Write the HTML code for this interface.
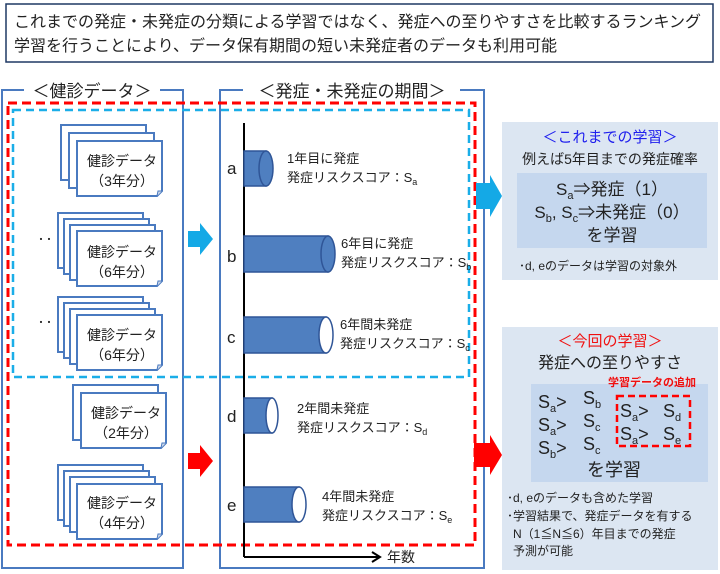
<!DOCTYPE html>
<html><head><meta charset="utf-8"><style>
body{margin:0;background:#fff}
svg{display:block}
text{font-family:"Liberation Sans","Noto Sans CJK JP",sans-serif;fill:#222}
</style></head><body>
<svg width="720" height="574" viewBox="0 0 720 574" xmlns="http://www.w3.org/2000/svg">
<defs>
<g id="sheet"><path d="M0 0H85V50L80 55H0Z" fill="#fff" stroke="#4a7ac0" stroke-width="2"/><path d="M80 55L81 50H85" fill="#cfd8e8" stroke="#4a7ac0" stroke-width="1"/></g>
</defs>
<rect x="6" y="4" width="707" height="58" fill="#fff" stroke="#1f3864" stroke-width="1.5"/>
<text x="14" y="27" font-size="16">これまでの発症・未発症の分類による学習ではなく、発症への至りやすさを比較するランキング</text>
<text x="14" y="51" font-size="16">学習を行うことにより、データ保有期間の短い未発症者のデータも利用可能</text>

<path d="M24 90H2V568H183V90H160" fill="none" stroke="#4a7ac0" stroke-width="2"/>
<text x="92" y="97" font-size="17" text-anchor="middle">＜健診データ＞</text>
<path d="M243 90H220V568H484V90H460" fill="none" stroke="#4a7ac0" stroke-width="2"/>
<text x="352" y="97" font-size="17" text-anchor="middle">＜発症・未発症の期間＞</text>

<rect x="8" y="103" width="467" height="442" fill="none" stroke="#f00" stroke-width="3" stroke-dasharray="9,5"/>
<rect x="13" y="110" width="456" height="267" fill="none" stroke="#1aaee8" stroke-width="2.5" stroke-dasharray="8,5"/>

<use href="#sheet" x="61" y="125"/>
<use href="#sheet" x="69" y="133"/>
<use href="#sheet" x="77" y="141"/>
<text x="122" y="166" font-size="14" text-anchor="middle">健診データ</text>
<text x="122" y="186" font-size="14" text-anchor="middle">（3年分）</text>

<use href="#sheet" x="58" y="213"/><use href="#sheet" x="64" y="219"/><use href="#sheet" x="70" y="225"/><use href="#sheet" x="77" y="231"/>
<text x="122" y="257" font-size="14" text-anchor="middle">健診データ</text>
<text x="122" y="277" font-size="14" text-anchor="middle">（6年分）</text>
<text x="37" y="245" font-size="16" fill="#4a7ac0">‥</text>

<use href="#sheet" x="58" y="297"/><use href="#sheet" x="64" y="303"/><use href="#sheet" x="70" y="309"/><use href="#sheet" x="77" y="315"/>
<text x="122" y="340" font-size="14" text-anchor="middle">健診データ</text>
<text x="122" y="360" font-size="14" text-anchor="middle">（6年分）</text>
<text x="37" y="328" font-size="16" fill="#4a7ac0">‥</text>

<use href="#sheet" x="73" y="385"/><use href="#sheet" x="81" y="393"/>
<text x="126" y="418" font-size="14" text-anchor="middle">健診データ</text>
<text x="126" y="438" font-size="14" text-anchor="middle">（2年分）</text>

<use href="#sheet" x="58" y="465"/><use href="#sheet" x="64" y="471"/><use href="#sheet" x="70" y="477"/><use href="#sheet" x="77" y="484"/>
<text x="122" y="508" font-size="14" text-anchor="middle">健診データ</text>
<text x="122" y="528" font-size="14" text-anchor="middle">（4年分）</text>

<path d="M188 231H200V223L213 239L200 255V247H188Z" fill="#14a9e6"/>
<path d="M188 453H200V445L213 461L200 477V469H188Z" fill="#f00"/>
<path d="M476 183H490V175L502 196L490 217V209H476Z" fill="#14a9e6"/>
<path d="M474 443H490V435L502 455L490 475V467H474Z" fill="#f00"/>

<line x1="244" y1="123" x2="244" y2="557" stroke="#000" stroke-width="2"/>
<line x1="244" y1="557" x2="378" y2="557" stroke="#000" stroke-width="2"/>
<path d="M372 552L380 557L372 562" fill="none" stroke="#000" stroke-width="2"/>
<text x="387" y="562" font-size="14">年数</text>

<g stroke="#2f5597" stroke-width="1.5">
<rect x="244" y="151" width="22" height="35" fill="#4f7fc0"/><ellipse cx="266" cy="168.5" rx="7" ry="17.5" fill="#4f7fc0"/>
<rect x="244" y="236" width="84" height="36" fill="#4f7fc0"/><ellipse cx="328" cy="254" rx="7" ry="18" fill="#4f7fc0"/>
<rect x="244" y="317" width="82" height="36" fill="#4f7fc0"/><ellipse cx="326" cy="335" rx="7" ry="18" fill="#fff"/>
<rect x="244" y="398" width="28" height="35" fill="#4f7fc0"/><ellipse cx="272" cy="415.5" rx="6" ry="17.5" fill="#fff"/>
<rect x="244" y="487" width="55" height="35" fill="#4f7fc0"/><ellipse cx="299" cy="504.5" rx="7" ry="17.5" fill="#fff"/>
</g>
<g font-size="17"><text x="227" y="174">a</text><text x="227" y="262">b</text><text x="227" y="343">c</text><text x="227" y="422">d</text><text x="227" y="511">e</text></g>
<g font-size="13">
<text x="287" y="163">1年目に発症</text><text x="287" y="182">発症リスクスコア：S<tspan font-size="9" dy="3">a</tspan></text>
<text x="341" y="248">6年目に発症</text><text x="341" y="267">発症リスクスコア：S<tspan font-size="9" dy="3">b</tspan></text>
<text x="340" y="329">6年間未発症</text><text x="340" y="348">発症リスクスコア：S<tspan font-size="9" dy="3">c</tspan></text>
<text x="297" y="413">2年間未発症</text><text x="297" y="432">発症リスクスコア：S<tspan font-size="9" dy="3">d</tspan></text>
<text x="322" y="501">4年間未発症</text><text x="322" y="520">発症リスクスコア：S<tspan font-size="9" dy="3">e</tspan></text>
</g>

<rect x="502" y="122" width="216" height="158" fill="#dce6f2"/>
<text x="610" y="142" font-size="15" text-anchor="middle" style="fill:#2020ee">＜これまでの学習＞</text>
<text x="610" y="164" font-size="14" text-anchor="middle">例えば5年目までの発症確率</text>
<rect x="517" y="173" width="190" height="75" fill="#c5d7ee"/>
<text x="612" y="195" font-size="17" text-anchor="middle">S<tspan font-size="11" dy="4">a</tspan><tspan dy="-4">⇒発症（1）</tspan></text>
<text x="612" y="218" font-size="17" text-anchor="middle">S<tspan font-size="11" dy="4">b</tspan><tspan dy="-4">, S</tspan><tspan font-size="11" dy="4">c</tspan><tspan dy="-4">⇒未発症（0）</tspan></text>
<text x="612" y="241" font-size="17" text-anchor="middle">を学習</text>
<text x="519" y="270" font-size="12">･d, eのデータは学習の対象外</text>

<rect x="502" y="327" width="216" height="243" fill="#dce6f2"/>
<text x="610" y="346" font-size="15" text-anchor="middle" style="fill:#f01010">＜今回の学習＞</text>
<text x="610" y="368" font-size="16" text-anchor="middle">発症への至りやすさ</text>
<rect x="531" y="384" width="177" height="98" fill="#c5d7ee"/>
<text x="608" y="386" font-size="11" font-weight="bold" style="fill:#f01010">学習データの追加</text>
<rect x="617" y="396" width="73" height="50" fill="none" stroke="#f00" stroke-width="2.5" stroke-dasharray="7,4"/>
<g font-size="18">
<text x="538" y="408">S<tspan font-size="11" dy="4">a</tspan><tspan dy="-4">&gt;</tspan></text><text x="583" y="404">S<tspan font-size="11" dy="4">b</tspan></text>
<text x="538" y="431">S<tspan font-size="11" dy="4">a</tspan><tspan dy="-4">&gt;</tspan></text><text x="583" y="427">S<tspan font-size="11" dy="4">c</tspan></text>
<text x="538" y="454">S<tspan font-size="11" dy="4">b</tspan><tspan dy="-4">&gt;</tspan></text><text x="583" y="450">S<tspan font-size="11" dy="4">c</tspan></text>
<text x="620" y="417">S<tspan font-size="11" dy="4">a</tspan><tspan dy="-4">&gt;</tspan></text><text x="663" y="417">S<tspan font-size="11" dy="4">d</tspan></text>
<text x="620" y="440">S<tspan font-size="11" dy="4">a</tspan><tspan dy="-4">&gt;</tspan></text><text x="663" y="440">S<tspan font-size="11" dy="4">e</tspan></text>
<text x="614" y="476" text-anchor="middle">を学習</text>
</g>
<g font-size="12">
<text x="507" y="502">･d, eのデータも含めた学習</text>
<text x="507" y="520">･学習結果で、発症データを有する</text>
<text x="513" y="538">N（1≦N≦6）年目までの発症</text>
<text x="513" y="555">予測が可能</text>
</g>
</svg>
</body></html>
